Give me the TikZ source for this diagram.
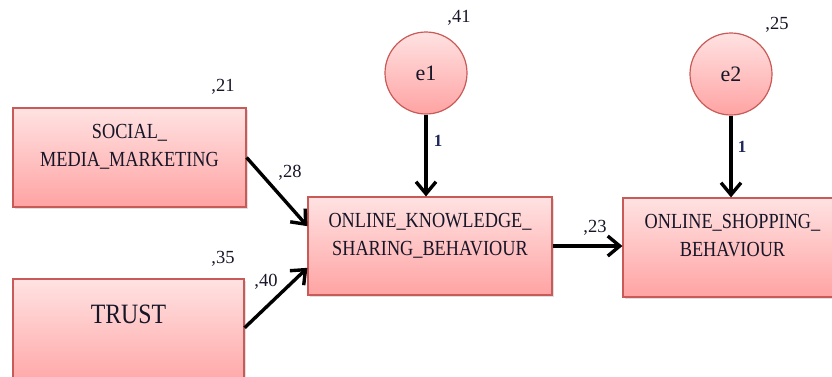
\documentclass[tikz,border=0pt]{standalone}
\usepackage{fontspec}
\setmainfont{Liberation Serif}
\newfontfamily\boxfont[FakeStretch=0.85]{Liberation Serif}
\usetikzlibrary{arrows.meta,calc,shadows}
\definecolor{boxtop}{RGB}{255,226,226}
\definecolor{boxbot}{RGB}{255,163,163}
\definecolor{boxline}{RGB}{200,90,88}
\definecolor{lbl}{RGB}{22,22,40}
\definecolor{onecol}{RGB}{30,40,90}
\begin{document}
\begin{tikzpicture}[x=1pt,y=-1pt,
  box/.style={draw=boxline, line width=1.2pt, top color=boxtop, bottom color=boxbot,
    inner sep=0pt, align=center, text=lbl,
    font=\boxfont\fontsize{21.5}{28}\selectfont, text height=43pt, text depth=25pt,
    drop shadow={opacity=0.25, shadow xshift=2pt, shadow yshift=-2pt}},
  err/.style={circle, draw=boxline, line width=1.2pt, top color=boxtop, bottom color=boxbot,
    minimum size=82pt, inner sep=0pt, text=lbl, font=\fontsize{22}{25}\selectfont},
  arr/.style={line width=3.4pt, -{Straight Barb[length=12pt,width=20pt]}},
  coef/.style={inner sep=0pt, text=lbl, font=\fontsize{18.5}{20}\selectfont},
  one/.style={inner sep=0pt, text=onecol, font=\bfseries\fontsize{17}{19}\selectfont}]
\useasboundingbox (0,0) rectangle (832,376);

\node[box, minimum width=233pt, minimum height=99pt] (SMM) at (129.5,157.5) {SOCIAL\_\\MEDIA\_MARKETING};
\node[box, minimum width=231pt, minimum height=111pt, font=\boxfont\fontsize{28}{30}\selectfont,
  text height=18pt, text depth=41pt] (TRUST) at (128.5,334.5) {TRUST};
\node[box, minimum width=244pt, minimum height=98pt] (OKSB) at (430,246) {ONLINE\_KNOWLEDGE\_\\SHARING\_BEHAVIOUR};
\node[box, minimum width=219pt, minimum height=99pt] (OSB) at (732.5,247.5) {ONLINE\_SHOPPING\_\\BEHAVIOUR};
\node[err] (e1) at (426,73) {e1};
\node[err] (e2) at (731,74) {e2};

\draw[arr] (SMM.east) -- ($(OKSB.north west)!0.3!(OKSB.south west)$);
\draw[arr] ($(TRUST.north east)!0.44!(TRUST.south east)$) -- ($(OKSB.north west)!0.72!(OKSB.south west)$);
\draw[arr] (OKSB.east) -- (OKSB.east -| OSB.west);
\draw[arr] (e1.south) -- (e1.south |- OKSB.north);
\draw[arr] (e2.south) -- (e2.south |- OSB.north);

\node[coef] (c41) at (459,18) {,41};
\node[coef] (c25) at (777,25) {,25};
\node[coef] (c21) at (223,87) {,21};
\node[coef] (c35) at (223,259) {,35};
\node[coef] (c28) at (290,173) {,28};
\node[coef] (c40) at (266,282) {,40};
\node[coef] (c23) at (595,228) {,23};
\node[one] (o1) at (438,141) {1};
\node[one] (o2) at (742,147) {1};
\end{tikzpicture}
\end{document}
